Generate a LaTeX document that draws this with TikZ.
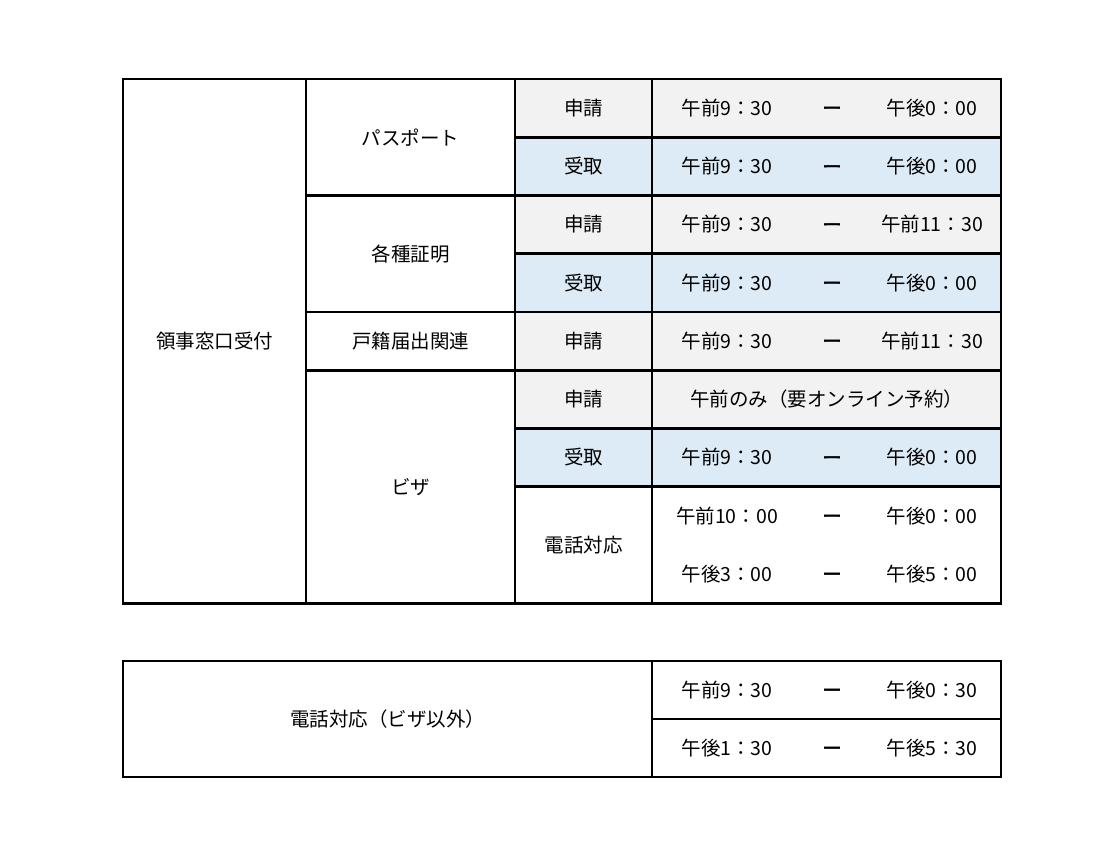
\documentclass[tikz,border=0pt]{standalone}
\usepackage{fontspec}
\setmainfont{Noto Sans CJK JP}
\usetikzlibrary{positioning}
\usetikzlibrary{calc}
\definecolor{shinseigray}{HTML}{F2F2F2}
\definecolor{ukeblue}{HTML}{DDEBF7}
\tikzset{
	x=1pt, y=-1pt,
	every node/.append style={align=center, inner sep=0pt, font=\fontsize{19.5}{23}\selectfont},
	rule/.style={line width=2.6pt, line cap=rect},
	shinsei/.style={fill=shinseigray},
	uketori/.style={fill=ukeblue},
	bou/.style={yshift=-3pt, font=\fontsize{19.5}{23}\selectfont\addfontfeature{FakeBold=1.5}}
}

\begin{document}
\begin{tikzpicture}

	\useasboundingbox (0,0) rectangle (1119,861);

	% row fills
	\fill[shinsei] (515,79) rectangle (1001,137.25);
	\fill[uketori] (515,137.25) rectangle (1001,195.5);
	\fill[shinsei] (515,195.5) rectangle (1001,253.75);
	\fill[uketori] (515,253.75) rectangle (1001,312);
	\fill[shinsei] (515,312) rectangle (1001,428.5);
	\fill[uketori] (515,428.5) rectangle (1001,486.75);

	% upper table
	\draw[rule] (123,79) rectangle (1001,603.25);
	\foreach \x in {306,515,652}
		\draw[rule] (\x,79) -- (\x,603.25);
	\foreach \y in {195.5,312,370.25}
		\draw[rule] (306,\y) -- (1001,\y);
	\foreach \y in {137.25,253.75,428.5,486.75}
		\draw[rule] (515,\y) -- (1001,\y);

	\node (ryoji) at (214.5,341) {領事窓口受付};
	\node (passport) at (410.5,137.25) {パスポート};
	\node (shomei) at (410.5,253.75) {各種証明};
	\node (koseki) at (410.5,341) {戸籍届出関連};
	\node (visa) at (410.5,486.75) {ビザ};

	\node (pshin) at (583.5,108) {申請};
	\node (puke) at (583.5,166.5) {受取};
	\node (sshin) at (583.5,224.5) {申請};
	\node (suke) at (583.5,283) {受取};
	\node (kshin) at (583.5,341) {申請};
	\node (vshin) at (583.5,399.5) {申請};
	\node (vuke) at (583.5,457.5) {受取};
	\node (vtel) at (583.5,545) {電話対応};

	\foreach \i/\y/\from/\to in {
		1/108/午前9：30/午後0：00,
		2/166.5/午前9：30/午後0：00,
		3/224.5/午前9：30/午前11：30,
		4/283/午前9：30/午後0：00,
		5/341/午前9：30/午前11：30,
		6/457.5/午前9：30/午後0：00,
		7/516/午前10：00/午後0：00,
		8/574/午後3：00/午後5：00}
	{
		\node (from\i) at (727,\y) {\from};
		\node[bou] (dash\i) at (832,\y) {ー};
		\node (to\i) at (932,\y) {\to};
	}
	\node (vyoyaku) at (826.5,399.5) {午前のみ（要オンライン予約）};

	% lower table
	\draw[rule] (123,661) rectangle (1001,777);
	\draw[rule] (652,661) -- (652,777);
	\draw[rule] (652,719) -- (1001,719);

	\node (teltitle) at (387.5,719) {電話対応（ビザ以外）};
	\foreach \i/\y/\from/\to in {
		9/690/午前9：30/午後0：30,
		10/748/午後1：30/午後5：30}
	{
		\node (from\i) at (727,\y) {\from};
		\node[bou] (dash\i) at (832,\y) {ー};
		\node (to\i) at (932,\y) {\to};
	}

\end{tikzpicture}
\end{document}
